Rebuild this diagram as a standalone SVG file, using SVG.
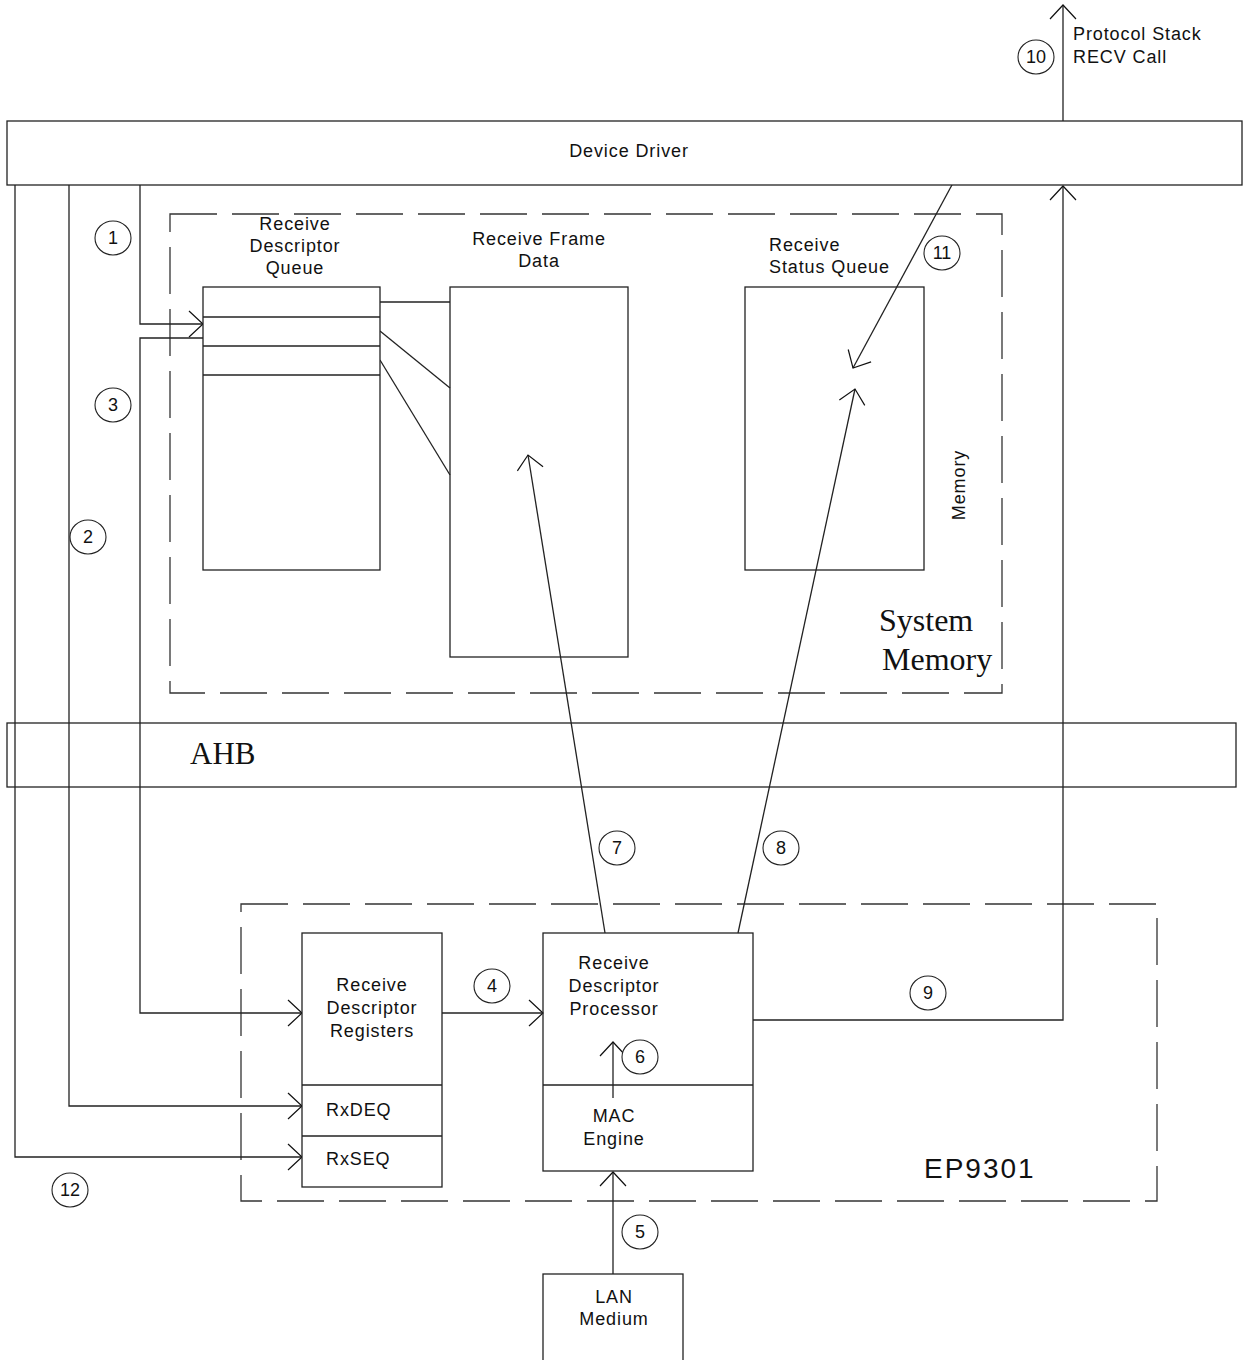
<svg xmlns="http://www.w3.org/2000/svg" width="1247" height="1360" viewBox="0 0 1247 1360">
<defs>
<marker id="ah" viewBox="0 0 20 30" refX="16" refY="15" markerWidth="20" markerHeight="30" markerUnits="userSpaceOnUse" orient="auto">
<path d="M2,2 L16,15 L2,28" fill="none" stroke="#111" stroke-width="1.2"/>
</marker>
</defs>
<style>
.box{fill:#fff;stroke:#222;stroke-width:1.3}
.dash{fill:none;stroke:#333;stroke-width:1.3;stroke-dasharray:47 15}
.ln{fill:none;stroke:#222;stroke-width:1.3}
.arr{fill:none;stroke:#222;stroke-width:1.3;marker-end:url(#ah)}
.t{font-family:"Liberation Sans",Arial,sans-serif;font-size:18px;letter-spacing:0.9px;fill:#111}
.n{font-family:"Liberation Sans",Arial,sans-serif;font-size:18px;fill:#111;text-anchor:middle}
.c{text-anchor:middle}
.serif{font-family:"Liberation Serif","Times New Roman",serif;font-size:32px;fill:#111}
.circ{fill:#fff;stroke:#222;stroke-width:1.1}
</style>
<rect width="1247" height="1360" fill="#fff"/>

<g id="system-memory">
<rect class="dash" x="170" y="214" width="832" height="479"/>
<text class="serif" x="879" y="631">System</text>
<text class="serif" x="882" y="670">Memory</text>
<text class="t c" transform="translate(965,485) rotate(-90)">Memory</text>
</g>

<g id="ep9301">
<rect class="dash" x="241" y="904" width="916" height="297"/>
<text x="924" y="1178" style="font-family:'Liberation Sans',Arial,sans-serif;font-size:28px;letter-spacing:2px;fill:#111">EP9301</text>
</g>

<g id="connectors">
<polyline class="arr" points="140,185 140,324 203,324"/>
<polyline class="arr" points="203,338 140,338 140,1013 302,1013"/>
<polyline class="arr" points="69,185 69,1106 302,1106"/>
<polyline class="arr" points="15,185 15,1157 302,1157"/>
<line class="ln" x1="380" y1="302" x2="450" y2="302"/>
<line class="ln" x1="380" y1="331" x2="450" y2="388"/>
<line class="ln" x1="380" y1="360" x2="450" y2="475"/>
<line class="arr" x1="442" y1="1013" x2="543" y2="1013"/>
<line class="arr" x1="613" y1="1274" x2="613" y2="1172"/>
<line class="arr" x1="613" y1="1098" x2="613" y2="1042"/>
<line class="arr" x1="605" y1="933" x2="528" y2="455"/>
<line class="arr" x1="738" y1="933" x2="855" y2="389"/>
<polyline class="arr" points="753,1020 1063,1020 1063,186"/>
<line class="arr" x1="1063" y1="121" x2="1063" y2="5"/>
<line class="arr" x1="953" y1="183" x2="853" y2="368"/>
</g>

<g id="device-driver">
<rect class="box" x="7" y="121" width="1235" height="64"/>
<text class="t c" x="629" y="157">Device Driver</text>
</g>

<g id="ahb">
<rect class="box" x="7" y="723" width="1229" height="64" style="fill:none"/>
<text class="serif" x="190" y="764" style="font-size:31px">AHB</text>
</g>

<g id="descriptor-queue">
<text class="t c" x="295" y="230">Receive</text>
<text class="t c" x="295" y="252">Descriptor</text>
<text class="t c" x="295" y="274">Queue</text>
<rect class="box" x="203" y="287" width="177" height="283"/>
<line class="ln" x1="203" y1="317" x2="380" y2="317"/>
<line class="ln" x1="203" y1="346" x2="380" y2="346"/>
<line class="ln" x1="203" y1="375" x2="380" y2="375"/>
</g>

<g id="frame-data">
<text class="t c" x="539" y="245">Receive Frame</text>
<text class="t c" x="539" y="267">Data</text>
<rect class="box" x="450" y="287" width="178" height="370" style="fill:none"/>
</g>

<g id="status-queue">
<text class="t" x="769" y="251">Receive</text>
<text class="t" x="769" y="273">Status Queue</text>
<rect class="box" x="745" y="287" width="179" height="283" style="fill:none"/>
</g>

<g id="registers">
<rect class="box" x="302" y="933" width="140" height="254"/>
<line class="ln" x1="302" y1="1085" x2="442" y2="1085"/>
<line class="ln" x1="302" y1="1136" x2="442" y2="1136"/>
<text class="t c" x="372" y="991">Receive</text>
<text class="t c" x="372" y="1014">Descriptor</text>
<text class="t c" x="372" y="1037">Registers</text>
<text class="t" x="326" y="1116">RxDEQ</text>
<text class="t" x="326" y="1165">RxSEQ</text>
</g>

<g id="processor">
<rect class="box" x="543" y="933" width="210" height="238" style="fill:none"/>
<line class="ln" x1="543" y1="1085" x2="753" y2="1085"/>
<text class="t c" x="614" y="969">Receive</text>
<text class="t c" x="614" y="992">Descriptor</text>
<text class="t c" x="614" y="1015">Processor</text>
<text class="t c" x="614" y="1122">MAC</text>
<text class="t c" x="614" y="1145">Engine</text>
</g>

<g id="lan-medium">
<rect class="box" x="543" y="1274" width="140" height="100"/>
<text class="t c" x="614" y="1303">LAN</text>
<text class="t c" x="614" y="1325">Medium</text>
</g>

<g id="protocol-stack">
<text class="t" x="1073" y="40">Protocol Stack</text>
<text class="t" x="1073" y="63">RECV Call</text>
</g>

<g id="step-labels">
<ellipse class="circ" cx="113" cy="238" rx="18" ry="17"/><text class="n" x="113" y="244">1</text>
<ellipse class="circ" cx="88" cy="537" rx="18" ry="17"/><text class="n" x="88" y="543">2</text>
<ellipse class="circ" cx="113" cy="405" rx="18" ry="17"/><text class="n" x="113" y="411">3</text>
<ellipse class="circ" cx="492" cy="986" rx="18" ry="17"/><text class="n" x="492" y="992">4</text>
<ellipse class="circ" cx="640" cy="1232" rx="18" ry="17"/><text class="n" x="640" y="1238">5</text>
<ellipse class="circ" cx="640" cy="1057" rx="18" ry="17"/><text class="n" x="640" y="1063">6</text>
<ellipse class="circ" cx="617" cy="848" rx="18" ry="17"/><text class="n" x="617" y="854">7</text>
<ellipse class="circ" cx="781" cy="848" rx="18" ry="17"/><text class="n" x="781" y="854">8</text>
<ellipse class="circ" cx="928" cy="993" rx="18" ry="17"/><text class="n" x="928" y="999">9</text>
<ellipse class="circ" cx="1036" cy="57" rx="18" ry="17"/><text class="n" x="1036" y="63">10</text>
<ellipse class="circ" cx="942" cy="253" rx="18" ry="17"/><text class="n" x="942" y="259">11</text>
<ellipse class="circ" cx="70" cy="1190" rx="18" ry="17"/><text class="n" x="70" y="1196">12</text>
</g>
</svg>
